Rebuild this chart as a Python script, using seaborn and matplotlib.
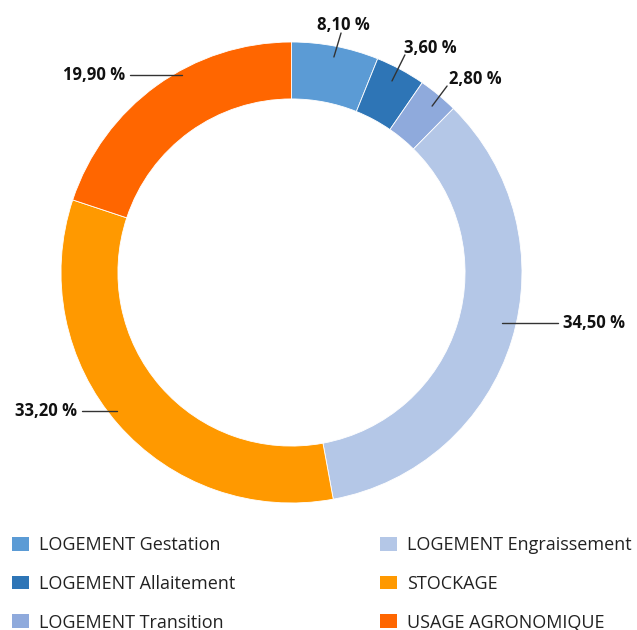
import matplotlib
matplotlib.use("Agg")
import matplotlib.pyplot as plt
from matplotlib.patches import Patch
import seaborn as sns

categories = ["LOGEMENT Gestation", "LOGEMENT Allaitement", "LOGEMENT Transition",
              "LOGEMENT Engraissement", "STOCKAGE", "USAGE AGRONOMIQUE"]
# arc shares as drawn in the picture (the printed labels differ slightly)
arc_share = [6.1, 3.5, 2.8, 34.7, 33.0, 19.9]
labels = ["8,10 %", "3,60 %", "2,80 %", "34,50 %", "33,20 %", "19,90 %"]
colors = ["#5b9bd5", "#2e75b6", "#8faadc", "#b4c7e7", "#ff9900", "#ff6600"]

sns.set_style("white")
plt.rcParams["font.family"] = ["Open Sans", "DejaVu Sans"]

fig = plt.figure(figsize=(6.37, 6.30), dpi=100)
ax = fig.add_axes([0, 0, 1, 1])

ax.pie(arc_share, colors=colors, startangle=90, counterclock=False, radius=1,
       wedgeprops=dict(width=0.247, edgecolor="white", linewidth=0.6))

# pie() resets the limits, so set them afterwards
ax.set_xlim(-1.2646, 1.499)
ax.set_ylim(-1.551, 1.1822)
ax.set_aspect("equal")
ax.axis("off")

# label layout: (line start, line end, text anchor, ha)
layout = [
    ((0.184, 0.935), (0.215, 1.039), (0.223, 1.074), "center"),
    ((0.436, 0.831), (0.492, 0.944), (0.488, 0.976), "left"),
    ((0.610, 0.722), (0.675, 0.809), (0.683, 0.839), "left"),
    ((0.913, -0.219), (1.156, -0.219), (1.178, -0.219), "left"),
    ((-0.757, -0.601), (-0.909, -0.601), (-0.931, -0.601), "right"),
    ((-0.475, 0.857), (-0.701, 0.857), (-0.722, 0.857), "right"),
]
for lab, (p0, p1, pt, ha) in zip(labels, layout):
    ax.plot([p0[0], p1[0]], [p0[1], p1[1]], color="#333333", lw=1)
    ax.text(pt[0], pt[1], lab, ha=ha, va="center", fontsize=12, fontweight="bold",
            color="#111111")

handles = [Patch(facecolor=c, edgecolor="none") for c in colors]
fig.legend(handles, categories, ncol=2, loc="upper left",
           bbox_to_anchor=(12 / 637, 1 - 536 / 630), frameon=False,
           fontsize=13, handlelength=0.95, handleheight=0.8, handletextpad=0.55,
           labelspacing=1.15, columnspacing=8.0, borderpad=0, borderaxespad=0,
           labelcolor="#222222")

fig.savefig("out.png", dpi=100)
